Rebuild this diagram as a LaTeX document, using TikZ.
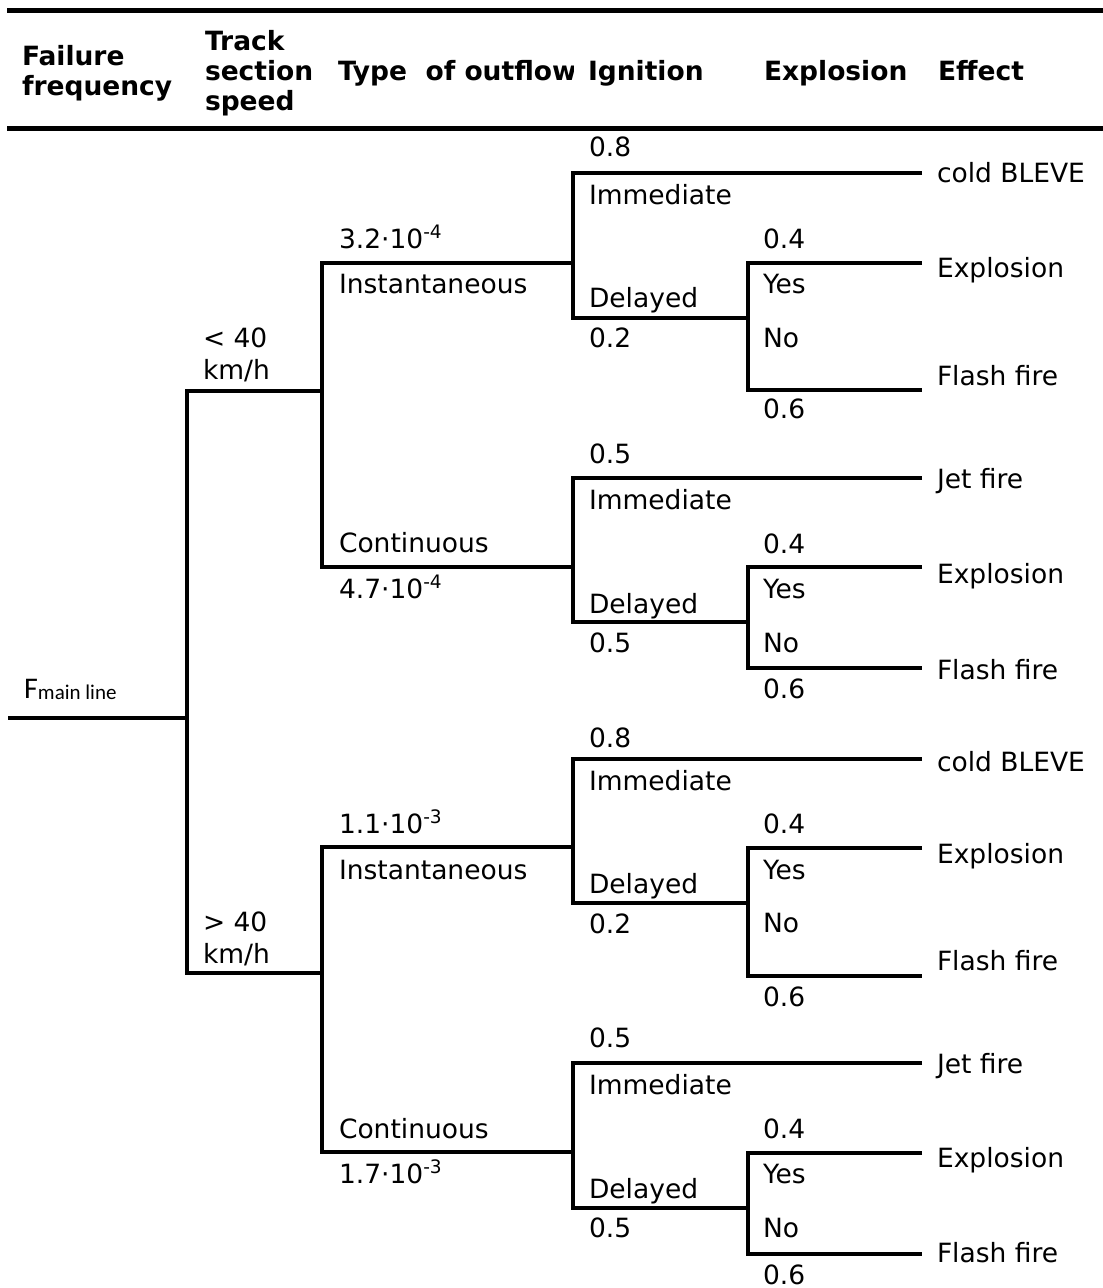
\documentclass[tikz,border=0pt]{standalone}
\usepackage{fontspec}
\setmainfont{DejaVu Sans}
\newfontfamily\calib{Carlito}
\begin{document}
\begin{tikzpicture}[x=1pt,y=-1pt,
  txt/.style={anchor=base west,inner sep=0pt,outer sep=0pt,font=\fontsize{26.5}{32}\selectfont},
  hdr/.style={txt,font=\fontsize{26.5}{30}\selectfont\bfseries},
  branch/.style={line width=3.5pt},
  rule/.style={line width=5pt}]
\useasboundingbox (0,0) rectangle (1103,1288);

% ---------- header ----------
\coordinate (ruleTL) at (7,10);    \coordinate (ruleTR) at (1103,10);
\coordinate (ruleBL) at (7,128);   \coordinate (ruleBR) at (1103,128);
\draw[rule] (ruleTL) -- (ruleTR);
\draw[rule] (ruleBL) -- (ruleBR);

\node[hdr] (hFail)  at (22,65)  {Failure};
\node[hdr] (hFreq)  at (22,95)  {frequency};
\node[hdr] (hTrack) at (205,50) {Track};
\node[hdr] (hSect)  at (205,80) {section};
\node[hdr] (hSpeed) at (205,110){speed};
\begin{scope}
  \clip (330,20) rectangle (573,120);
  \node[hdr] (hType) at (338,80) {Type\ \ of outflow};
\end{scope}
\node[hdr] (hIgn)  at (588,80) {Ignition};
\node[hdr] (hExpl) at (764,80) {Explosion};
\node[hdr] (hEff)  at (938,80) {Effect};

% ---------- branch points ----------
\coordinate (root) at (8,718);
\coordinate (j0)   at (187,718);
\coordinate (s1)   at (322,391);
\coordinate (s2)   at (322,973);
% track speed < 40 km/h
\coordinate (i1)  at (573,263);  \coordinate (c1)  at (573,567);
\coordinate (im1) at (922,173);  \coordinate (d1)  at (748,318);
\coordinate (y1)  at (922,263);  \coordinate (n1)  at (922,390);
\coordinate (im2) at (922,478);  \coordinate (d2)  at (748,622);
\coordinate (y2)  at (922,567);  \coordinate (n2)  at (922,668);
% track speed > 40 km/h
\coordinate (i2)  at (573,847);  \coordinate (c2)  at (573,1152);
\coordinate (im3) at (922,759);  \coordinate (d3)  at (748,903);
\coordinate (y3)  at (922,848);  \coordinate (n3)  at (922,976);
\coordinate (im4) at (922,1063); \coordinate (d4)  at (748,1208);
\coordinate (y4)  at (922,1153); \coordinate (n4)  at (922,1254);

% ---------- tree ----------
\draw[branch] (root) -- (j0);
\draw[branch] (s1) -| (j0) |- (s2);
\draw[branch] (i1) -| (s1) |- (c1);
\draw[branch] (i2) -| (s2) |- (c2);
\draw[branch] (im1) -| (i1) |- (d1);
\draw[branch] (im2) -| (c1) |- (d2);
\draw[branch] (im3) -| (i2) |- (d3);
\draw[branch] (im4) -| (c2) |- (d4);
\draw[branch] (y1) -| (d1) |- (n1);
\draw[branch] (y2) -| (d2) |- (n2);
\draw[branch] (y3) -| (d3) |- (n3);
\draw[branch] (y4) -| (d4) |- (n4);

% ---------- labels ----------
\node[anchor=base west,inner sep=0pt] (fml) at (24,698)
  {\calib\fontsize{30}{30}\selectfont F\raisebox{-1pt}{\fontsize{21}{21}\selectfont main line}};

\node[txt] (lt40)  at (203,347) {< 40};
\node[txt] (lt40u) at (203,379) {km/h};
\node[txt] (gt40)  at (203,931) {> 40};
\node[txt] (gt40u) at (203,963) {km/h};

% < 40 km/h, instantaneous
\node[txt] (pA1)  at (589,156) {0.8};
\node[txt] (imA1) at (589,204) {Immediate};
\node[txt] (fA1)  at (339,248) {3.2·10\textsuperscript{-4}};
\node[txt] (inA1) at (339,293) {Instantaneous};
\node[txt] (deA1) at (589,307) {Delayed};
\node[txt] (qA1)  at (589,347) {0.2};
\node[txt] (eA1)  at (937,182) {cold BLEVE};
\node[txt] (xpA1) at (763,248) {0.4};
\node[txt] (exA1) at (937,277) {Explosion};
\node[txt] (yeA1) at (763,293) {Yes};
\node[txt] (noA1) at (763,347) {No};
\node[txt] (ffA1) at (937,385) {Flash fire};
\node[txt] (xqA1) at (763,418) {0.6};

% < 40 km/h, continuous
\node[txt] (pA2)  at (589,463) {0.5};
\node[txt] (imA2) at (589,509) {Immediate};
\node[txt] (coA2) at (339,552) {Continuous};
\node[txt] (fA2)  at (339,598) {4.7·10\textsuperscript{-4}};
\node[txt] (deA2) at (589,613) {Delayed};
\node[txt] (qA2)  at (589,652) {0.5};
\node[txt] (eA2)  at (937,488) {Jet fire};
\node[txt] (xpA2) at (763,553) {0.4};
\node[txt] (exA2) at (937,583) {Explosion};
\node[txt] (yeA2) at (763,598) {Yes};
\node[txt] (noA2) at (763,652) {No};
\node[txt] (ffA2) at (937,679) {Flash fire};
\node[txt] (xqA2) at (763,698) {0.6};

% > 40 km/h, instantaneous
\node[txt] (pB1)  at (589,747) {0.8};
\node[txt] (imB1) at (589,790) {Immediate};
\node[txt] (fB1)  at (339,833) {1.1·10\textsuperscript{-3}};
\node[txt] (inB1) at (339,879) {Instantaneous};
\node[txt] (deB1) at (589,893) {Delayed};
\node[txt] (qB1)  at (589,933) {0.2};
\node[txt] (eB1)  at (937,771) {cold BLEVE};
\node[txt] (xpB1) at (763,833) {0.4};
\node[txt] (exB1) at (937,863) {Explosion};
\node[txt] (yeB1) at (763,879) {Yes};
\node[txt] (noB1) at (763,932) {No};
\node[txt] (ffB1) at (937,970) {Flash fire};
\node[txt] (xqB1) at (763,1006) {0.6};

% > 40 km/h, continuous
\node[txt] (pB2)  at (589,1047) {0.5};
\node[txt] (imB2) at (589,1094) {Immediate};
\node[txt] (coB2) at (339,1138) {Continuous};
\node[txt] (fB2)  at (339,1183) {1.7·10\textsuperscript{-3}};
\node[txt] (deB2) at (589,1198) {Delayed};
\node[txt] (qB2)  at (589,1237) {0.5};
\node[txt] (eB2)  at (937,1073) {Jet fire};
\node[txt] (xpB2) at (763,1138) {0.4};
\node[txt] (exB2) at (937,1167) {Explosion};
\node[txt] (yeB2) at (763,1183) {Yes};
\node[txt] (noB2) at (763,1237) {No};
\node[txt] (ffB2) at (937,1262) {Flash fire};
\node[txt] (xqB2) at (763,1284) {0.6};
\end{tikzpicture}
\end{document}
